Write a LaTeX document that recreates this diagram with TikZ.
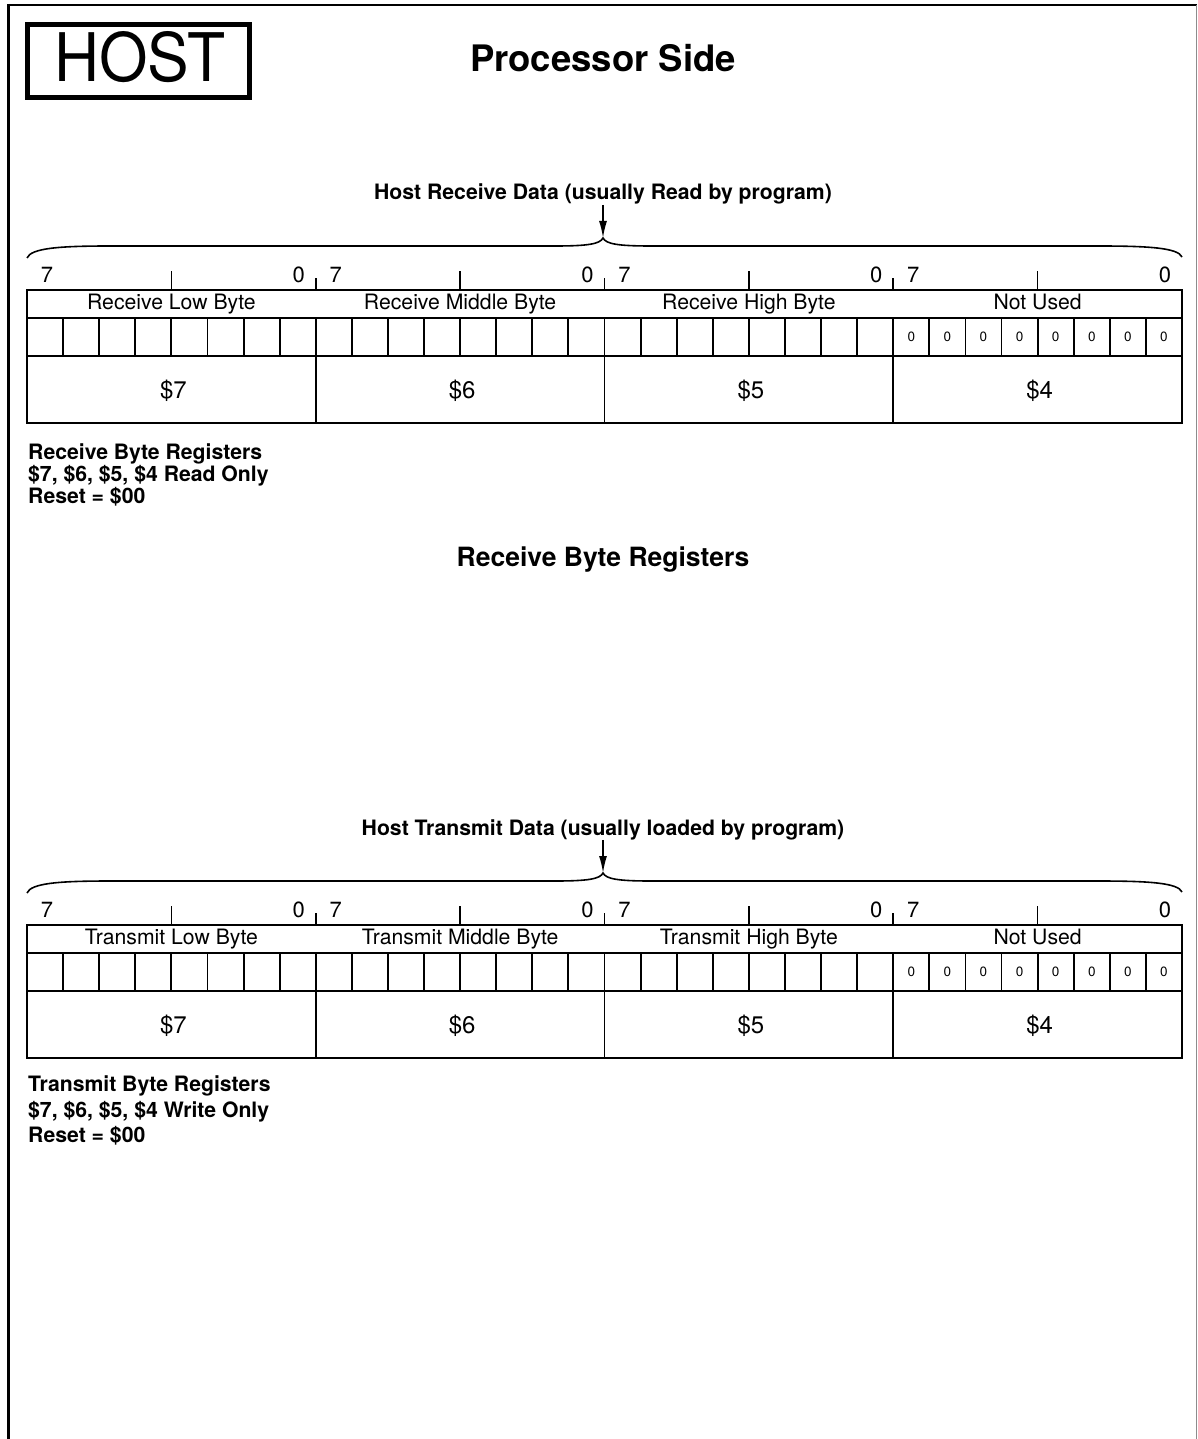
\documentclass[tikz,border=0pt]{standalone}
\usepackage{fontspec}
\setmainfont{TeX Gyre Heros}
\usetikzlibrary{arrows.meta}
\tikzset{
  tbl/.style={line width=1.9pt},
  tick/.style={line width=1.6pt},
  bracepath/.style={line width=1.6pt},
  arr/.style={line width=1.6pt,-{Latex[length=17pt,width=8pt]}},
  ttl/.style={font=\bfseries\fontsize{21.2}{21.2}\selectfont,anchor=base,inner sep=0pt},
  bitnum/.style={font=\fontsize{22}{22}\selectfont,anchor=base,inner sep=0pt},
  bytelab/.style={font=\fontsize{21.2}{21.2}\selectfont,anchor=base,inner sep=0pt},
  addr/.style={font=\fontsize{24}{24}\selectfont,anchor=base,inner sep=0pt},
  zero/.style={font=\fontsize{13.5}{13.5}\selectfont,inner sep=0pt},
  note/.style={font=\bfseries\fontsize{21.2}{21.2}\selectfont,anchor=base west,inner sep=0pt},
}
\newcommand\regblock[7]{%
\begin{scope}[shift={(0,#2)}]
  \node[ttl] (#1title) at (603,200) {#3};
  \coordinate (#1tip) at (603,238);
  \draw[bracepath] (27,258) .. controls (31,248) and (60,246) .. (110,246) -- (555,246)
     .. controls (588,246) and (600,244) .. (#1tip)
     .. controls (606,244) and (618,246) .. (651,246) -- (1099,246)
     .. controls (1150,246) and (1178,248) .. (1182,257);
  \draw[arr] (#1title.south) -- (#1tip);
  \draw[tbl] (27,290) rectangle (1182,423);
  \draw[tbl] (27,318) -- (1182,318);
  \draw[tbl] (27,356) -- (1182,356);
  \foreach \i in {1,...,31} {\draw[tbl] ({27+\i*36.09375},318) -- ++(0,38);}
  \foreach \lab/\ad [count=\b from 0] in {#4/7,#5/6,#6/5,#7/4} {
    \pgfmathsetmacro\xl{27+\b*288.75}
    \pgfmathsetmacro\xc{\xl+144.375}
    \pgfmathsetmacro\xr{\xl+288.75}
    \draw[tick] (\xc,290) -- ++(0,-19);
    \node[bitnum] (#1hi\b) at ({\xl+20},282) {7};
    \node[bitnum] (#1lo\b) at ({\xr-17},282) {0};
    \node[bytelab] (#1lab\b) at (\xc,309) {\lab};
    \node[addr] (#1addr\b) at ({\xc+2},398) {\$\ad};
  }
  \foreach \b in {1,2,3} {
    \pgfmathsetmacro\xb{27+\b*288.75}
    \draw[tick] (\xb,290) -- ++(0,-12);
    \draw[tbl] (\xb,356) -- (\xb,423);
  }
  \foreach \i in {0,...,7} {
    \pgfmathsetmacro\xz{893.25+(\i+0.5)*36.09375}
    \node[zero] (#1z\i) at (\xz,337) {0};
  }
\end{scope}}

\begin{document}
\begin{tikzpicture}[x=1pt,y=-1pt]
\useasboundingbox (0,0) rectangle (1198,1439);
% page frame
\draw[line width=2.2pt] (8.5,5) -- (1197,5);
\draw[line width=2.5pt] (8.5,4) -- (8.5,1439);
\draw[line width=1.2pt,black!45] (1196.5,5) -- (1196.5,1439);
% HOST label
\draw[line width=5pt] (27.5,24.5) rectangle (249.5,97.5);
\node[anchor=base,inner sep=0pt] (host) at (140,82) {\scalebox{0.93}[1]{\fontsize{67}{67}\selectfont HOST}};
\node[anchor=base,inner sep=0pt,font=\bfseries\fontsize{36.5}{36.5}\selectfont] (proc) at (603,72) {Processor Side};

\regblock{r}{0}{Host Receive Data (usually Read by program)}{Receive Low Byte}{Receive Middle Byte}{Receive High Byte}{Not Used}
\node[note] (rn1) at (28,459) {Receive Byte Registers};
\node[note] (rn2) at (28,481.5) {\$7, \$6, \$5, \$4 Read Only};
\node[note] (rn3) at (28,503) {Reset = \$00};
\node[anchor=base,inner sep=0pt,font=\bfseries\fontsize{26.5}{26.5}\selectfont] (rcap) at (603,566) {Receive Byte Registers};

\regblock{t}{635}{Host Transmit Data (usually loaded by program)}{Transmit Low Byte}{Transmit Middle Byte}{Transmit High Byte}{Not Used}
\node[note] (tn1) at (28,1091) {Transmit Byte Registers};
\node[note] (tn2) at (28,1117) {\$7, \$6, \$5, \$4 Write Only};
\node[note] (tn3) at (28,1142) {Reset = \$00};
\end{tikzpicture}
\end{document}
